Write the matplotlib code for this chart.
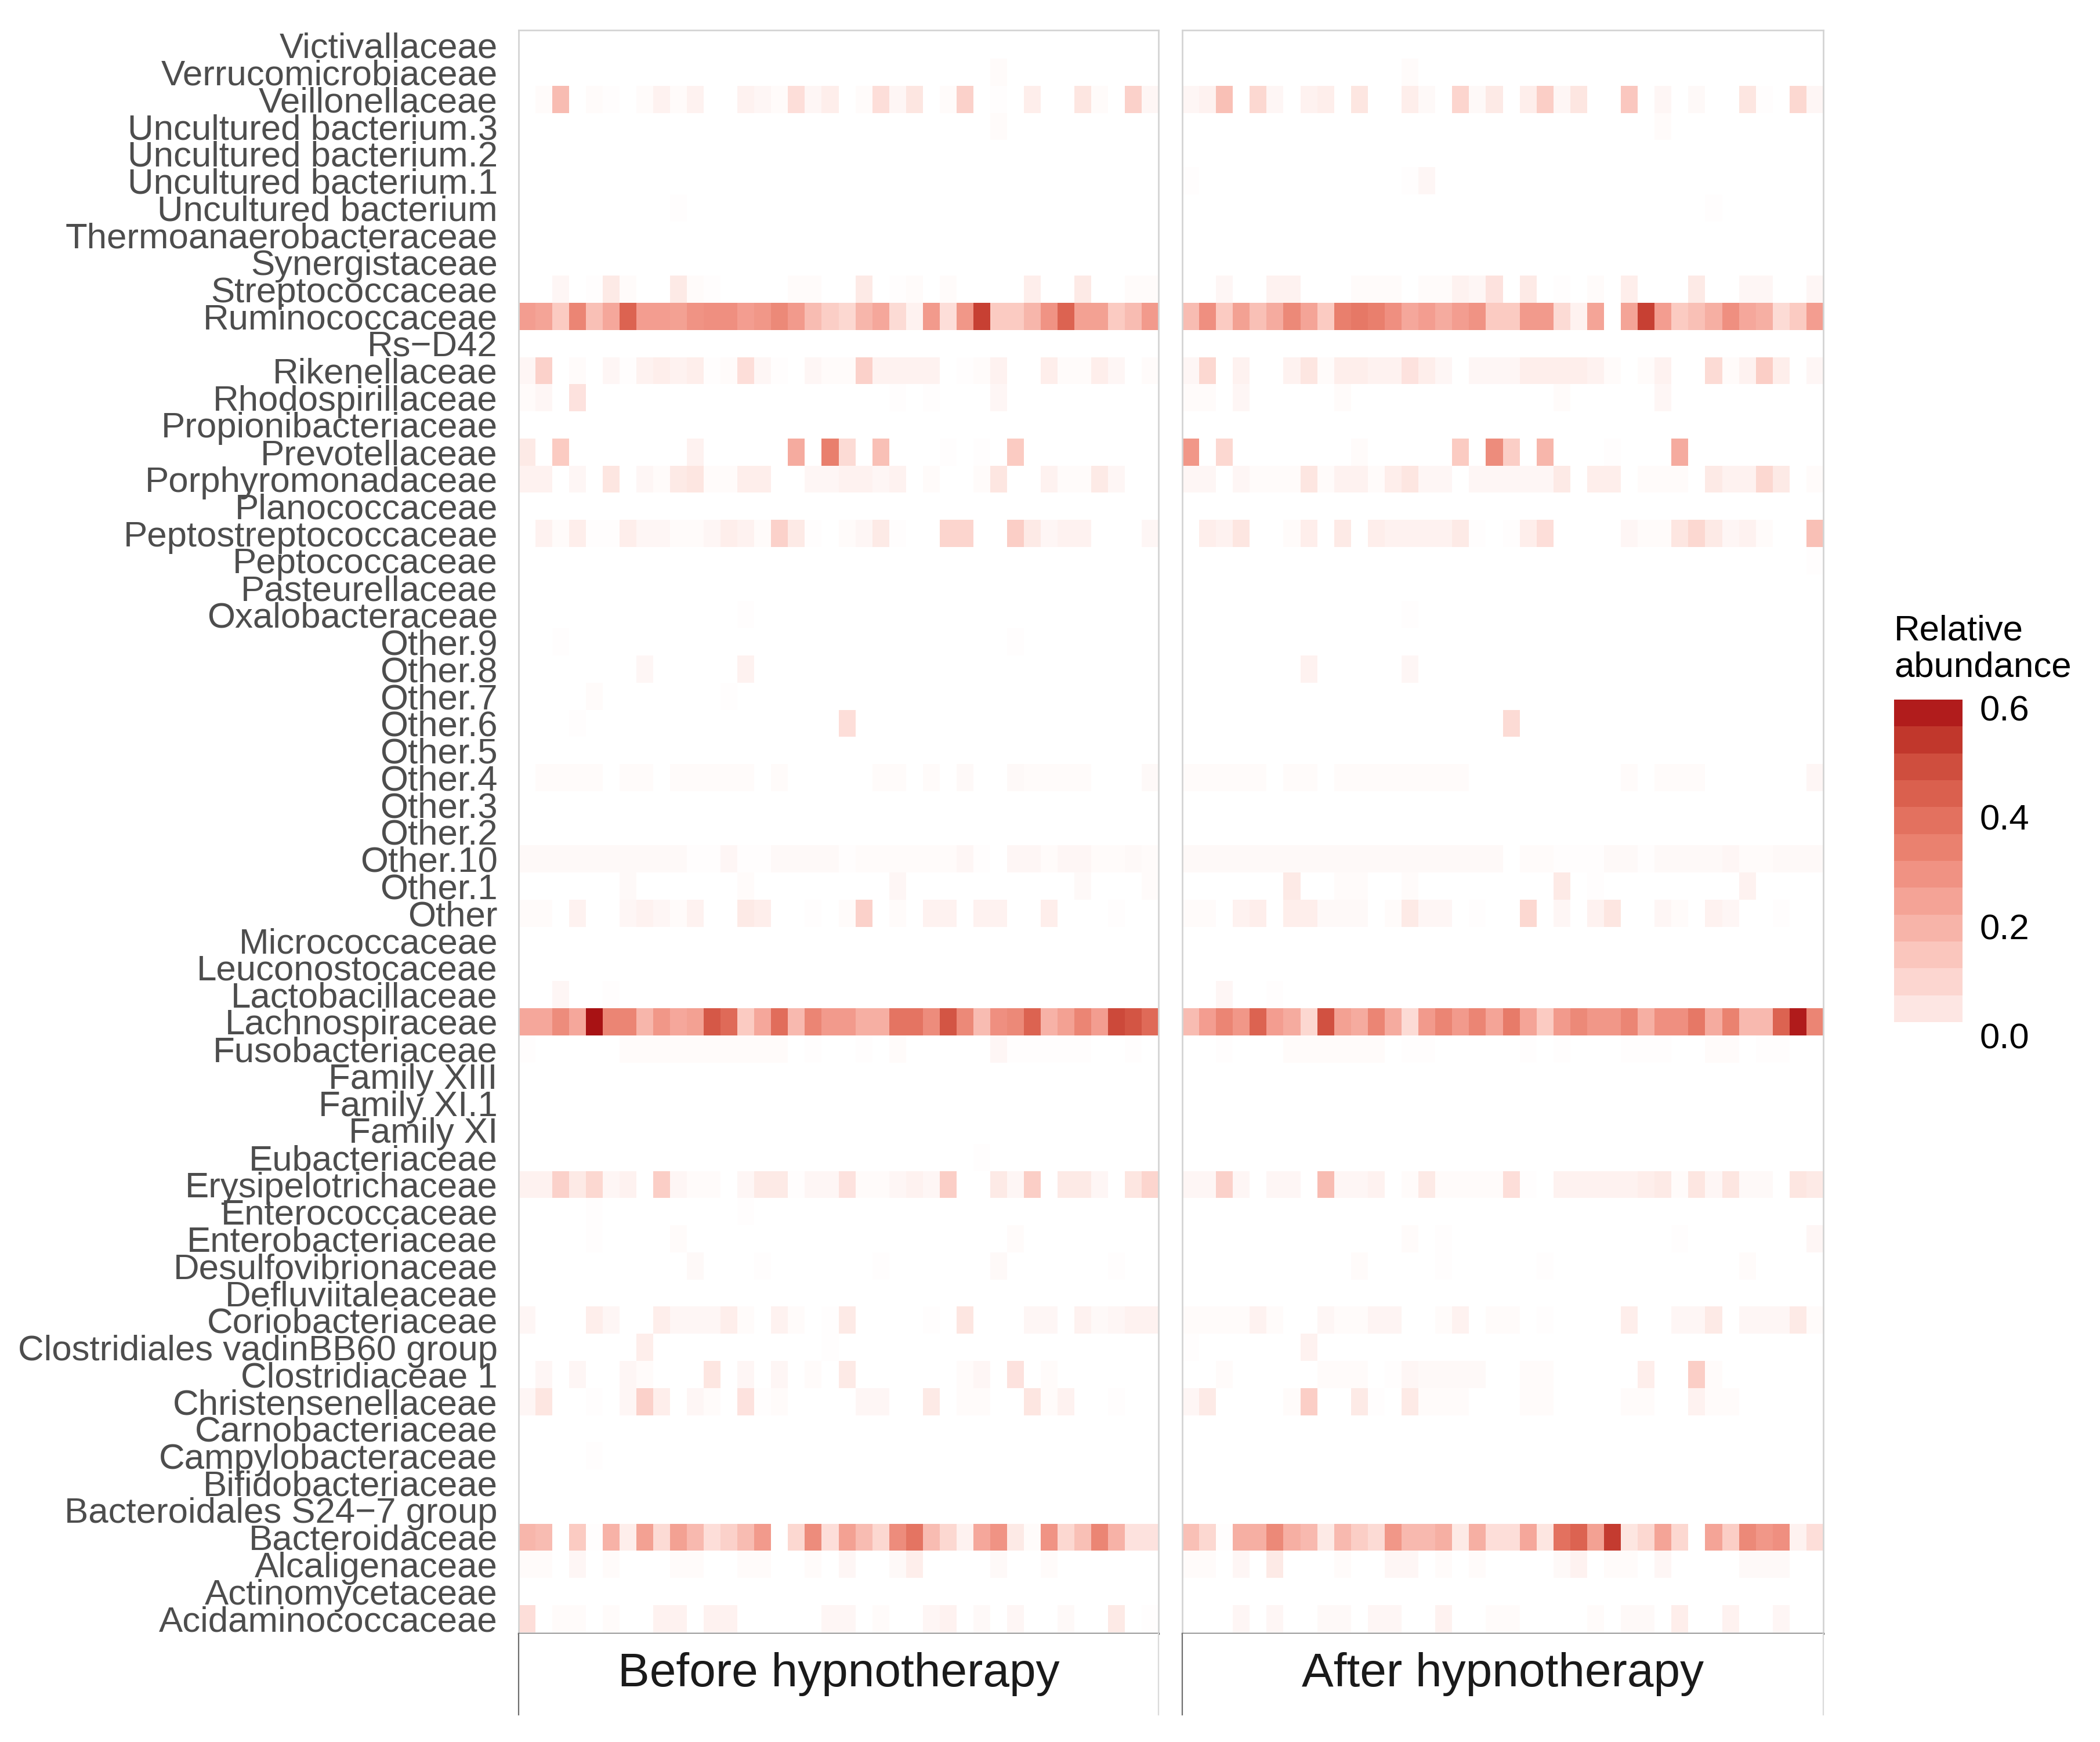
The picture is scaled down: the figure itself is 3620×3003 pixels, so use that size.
import numpy as np
import matplotlib
matplotlib.use("Agg")
import matplotlib.pyplot as plt
from matplotlib.colors import LinearSegmentedColormap

N_SAMPLES = 38

families = [
    "Victivallaceae", "Verrucomicrobiaceae", "Veillonellaceae",
    "Uncultured bacterium.3", "Uncultured bacterium.2", "Uncultured bacterium.1",
    "Uncultured bacterium", "Thermoanaerobacteraceae", "Synergistaceae",
    "Streptococcaceae", "Ruminococcaceae", "Rs\u2212D42", "Rikenellaceae",
    "Rhodospirillaceae", "Propionibacteriaceae", "Prevotellaceae",
    "Porphyromonadaceae", "Planococcaceae", "Peptostreptococcaceae",
    "Peptococcaceae", "Pasteurellaceae", "Oxalobacteraceae", "Other.9",
    "Other.8", "Other.7", "Other.6", "Other.5", "Other.4", "Other.3",
    "Other.2", "Other.10", "Other.1", "Other", "Micrococcaceae",
    "Leuconostocaceae", "Lactobacillaceae", "Lachnospiraceae",
    "Fusobacteriaceae", "Family XIII", "Family XI.1", "Family XI",
    "Eubacteriaceae", "Erysipelotrichaceae", "Enterococcaceae",
    "Enterobacteriaceae", "Desulfovibrionaceae", "Defluviitaleaceae",
    "Coriobacteriaceae", "Clostridiales vadinBB60 group", "Clostridiaceae 1",
    "Christensenellaceae", "Carnobacteriaceae", "Campylobacteraceae",
    "Bifidobacteriaceae", "Bacteroidales S24\u22127 group", "Bacteroidaceae",
    "Alcaligenaceae", "Actinomycetaceae", "Acidaminococcaceae",
]

panel_titles = ["Before hypnotherapy", "After hypnotherapy"]

# ---- relative abundance per family (38 samples); dicts = {sample index: value}, others 0
victivallaceae_before = {}
victivallaceae_after = {}
verrucomicrobiaceae_before = {28: 0.01}
verrucomicrobiaceae_after = {13: 0.01}
veillonellaceae_before = [
    0, 0.01, 0.18, 0, 0.01, 0.005, 0, 0.01, 0.03, 0.01,
    0.03, 0, 0, 0.03, 0.02, 0.01, 0.08, 0.02, 0.04, 0,
    0.01, 0.08, 0.02, 0.06, 0, 0.01, 0.12, 0, 0.005, 0,
    0.04, 0, 0, 0.06, 0.01, 0, 0.12, 0.02]
veillonellaceae_after = [
    0.02, 0.03, 0.17, 0, 0.10, 0.02, 0, 0.03, 0.04, 0,
    0.06, 0, 0, 0.04, 0.015, 0, 0.11, 0.015, 0.05, 0,
    0.04, 0.13, 0.02, 0.06, 0, 0, 0.15, 0, 0.02, 0,
    0.015, 0, 0, 0.06, 0.005, 0, 0.10, 0.02]
uncultured_bacterium_3_before = {28: 0.01}
uncultured_bacterium_3_after = {28: 0.01}
uncultured_bacterium_2_before = {}
uncultured_bacterium_2_after = {}
uncultured_bacterium_1_before = {}
uncultured_bacterium_1_after = {0: 0.005, 13: 0.005, 14: 0.02}
uncultured_bacterium_before = {9: 0.005}
uncultured_bacterium_after = {31: 0.005}
thermoanaerobacteraceae_before = {}
thermoanaerobacteraceae_after = {}
synergistaceae_before = {}
synergistaceae_after = {}
streptococcaceae_before = [
    0, 0, 0.02, 0, 0.005, 0.05, 0.01, 0, 0, 0.05,
    0.01, 0.005, 0, 0, 0, 0, 0.01, 0.01, 0, 0,
    0.05, 0, 0.005, 0.01, 0, 0.01, 0, 0, 0, 0,
    0.04, 0, 0, 0.05, 0, 0, 0.01, 0.01]
streptococcaceae_after = [
    0, 0, 0.02, 0, 0, 0.03, 0.03, 0, 0, 0,
    0.01, 0.01, 0.01, 0, 0.01, 0.01, 0.03, 0.02, 0.07, 0,
    0.05, 0, 0.005, 0, 0.01, 0, 0.04, 0, 0, 0,
    0.05, 0, 0, 0.02, 0.02, 0, 0, 0.02]
ruminococcaceae_before = [
    0.27, 0.25, 0.14, 0.34, 0.17, 0.24, 0.44, 0.27, 0.27, 0.26,
    0.30, 0.31, 0.31, 0.27, 0.29, 0.33, 0.28, 0.18, 0.13, 0.10,
    0.20, 0.24, 0.09, 0.03, 0.28, 0.08, 0.29, 0.53, 0.14, 0.14,
    0.20, 0.30, 0.44, 0.26, 0.26, 0.14, 0.18, 0.28]
ruminococcaceae_after = [
    0.18, 0.31, 0.14, 0.26, 0.17, 0.23, 0.33, 0.25, 0.14, 0.36,
    0.38, 0.36, 0.31, 0.24, 0.27, 0.23, 0.27, 0.30, 0.14, 0.14,
    0.28, 0.28, 0.09, 0.03, 0.25, 0.0, 0.25, 0.53, 0.27, 0.14,
    0.17, 0.22, 0.31, 0.24, 0.22, 0.09, 0.14, 0.27]
rs_d42_before = {}
rs_d42_after = {}
rikenellaceae_before = [
    0.02, 0.12, 0, 0.01, 0, 0.02, 0.005, 0.03, 0.04, 0.03,
    0.04, 0.005, 0.01, 0.08, 0.02, 0.005, 0, 0.02, 0.01, 0.01,
    0.12, 0.03, 0.03, 0.03, 0.03, 0, 0.005, 0.01, 0.03, 0,
    0, 0.04, 0.01, 0.01, 0.04, 0.02, 0, 0.01]
rikenellaceae_after = [
    0.02, 0.10, 0, 0.03, 0, 0, 0.03, 0.06, 0.01, 0.04,
    0.04, 0.03, 0.03, 0.07, 0.04, 0.02, 0, 0.02, 0.02, 0.02,
    0.04, 0.04, 0.04, 0.04, 0.03, 0.01, 0, 0.01, 0.03, 0,
    0, 0.09, 0.01, 0.03, 0.13, 0.04, 0, 0.02]
rhodospirillaceae_before = {0: 0.01, 1: 0.02, 3: 0.07, 22: 0.005, 24: 0.005, 28: 0.02}
rhodospirillaceae_after = {0: 0.01, 1: 0.01, 3: 0.02, 9: 0.01, 22: 0.01, 28: 0.02}
propionibacteriaceae_before = {}
propionibacteriaceae_after = {}
prevotellaceae_before = {0: 0.05, 2: 0.14, 10: 0.03, 16: 0.23, 18: 0.36, 19: 0.09,
                         21: 0.17, 25: 0.005, 27: 0.005, 29: 0.14}
prevotellaceae_after = {0: 0.29, 2: 0.10, 10: 0.01, 16: 0.14, 18: 0.32, 19: 0.13,
                        21: 0.20, 25: 0.005, 29: 0.23}
porphyromonadaceae_before = [
    0.03, 0.03, 0, 0.02, 0, 0.06, 0, 0.02, 0.01, 0.05,
    0.06, 0.01, 0.01, 0.04, 0.04, 0, 0, 0.02, 0.02, 0.03,
    0.03, 0.02, 0.03, 0, 0.01, 0, 0, 0.01, 0.06, 0,
    0, 0.03, 0.01, 0.01, 0.05, 0.02, 0, 0]
porphyromonadaceae_after = [
    0.02, 0.02, 0, 0.02, 0.01, 0.01, 0.01, 0.06, 0.01, 0.03,
    0.03, 0.01, 0.04, 0.06, 0.02, 0.02, 0, 0.02, 0.02, 0.02,
    0.02, 0.02, 0.05, 0, 0.04, 0.04, 0, 0.01, 0.01, 0.01,
    0, 0.05, 0.03, 0.03, 0.10, 0.05, 0, 0.01]
planococcaceae_before = {}
planococcaceae_after = {}
peptostreptococcaceae_before = [
    0, 0.03, 0.01, 0.04, 0.005, 0.005, 0.04, 0.02, 0.02, 0.01,
    0.01, 0.02, 0.04, 0.03, 0.01, 0.12, 0.05, 0.005, 0, 0.01,
    0.02, 0.05, 0.005, 0, 0, 0.11, 0.11, 0, 0, 0.13,
    0.05, 0.02, 0.03, 0.03, 0, 0, 0, 0.02]
peptostreptococcaceae_after = [
    0, 0.04, 0.03, 0.06, 0, 0, 0.01, 0.04, 0, 0.05,
    0, 0.04, 0.03, 0.03, 0.03, 0.03, 0.05, 0.005, 0, 0.005,
    0.04, 0.08, 0, 0, 0, 0, 0.02, 0.01, 0.01, 0.06,
    0.10, 0.05, 0.02, 0.03, 0.01, 0, 0, 0.17]
peptococcaceae_before = {}
peptococcaceae_after = {37: 0.005}
pasteurellaceae_before = {}
pasteurellaceae_after = {}
oxalobacteraceae_before = {13: 0.005}
oxalobacteraceae_after = {13: 0.005}
other_9_before = {2: 0.005, 29: 0.005}
other_9_after = {}
other_8_before = {7: 0.02, 13: 0.03}
other_8_after = {7: 0.03, 13: 0.02}
other_7_before = {4: 0.01, 12: 0.005}
other_7_after = {}
other_6_before = {3: 0.005, 19: 0.08}
other_6_after = {19: 0.09}
other_5_before = {}
other_5_after = {}
other_4_before = [
    0, 0.01, 0.01, 0.01, 0.01, 0, 0.01, 0.01, 0, 0.01,
    0.01, 0.01, 0.01, 0.01, 0, 0.01, 0, 0, 0, 0,
    0, 0.01, 0.01, 0, 0.01, 0, 0.015, 0, 0, 0.015,
    0.01, 0.01, 0.01, 0.01, 0, 0, 0, 0.015]
other_4_after = [
    0.01, 0.01, 0.01, 0.01, 0.01, 0, 0.01, 0.01, 0, 0.01,
    0.01, 0.01, 0.01, 0.01, 0.01, 0.01, 0.01, 0, 0, 0,
    0, 0, 0, 0, 0, 0, 0.01, 0, 0.01, 0.01,
    0.01, 0, 0, 0, 0, 0, 0, 0.02]
other_3_before = {}
other_3_after = {}
other_2_before = {}
other_2_after = {}
other_10_before = [
    0.015, 0.015, 0.015, 0.015, 0.015, 0.015, 0.015, 0.015, 0.015, 0.015,
    0.005, 0.005, 0.02, 0.005, 0.005, 0.015, 0.015, 0.015, 0.015, 0.005,
    0.01, 0.01, 0.01, 0.01, 0.01, 0.01, 0.02, 0.005, 0, 0.02,
    0.02, 0.01, 0.02, 0.02, 0.01, 0.01, 0.015, 0.01]
other_10_after = [
    0.015, 0.015, 0.015, 0.015, 0.015, 0.015, 0.015, 0.015, 0.015, 0.015,
    0.015, 0.015, 0.015, 0.015, 0.015, 0.015, 0.015, 0.015, 0.015, 0,
    0.01, 0.01, 0.005, 0.005, 0.005, 0.015, 0.015, 0.005, 0.015, 0.015,
    0.015, 0.015, 0.02, 0.01, 0.01, 0.015, 0.015, 0.015]
other_1_before = {6: 0.015, 13: 0.01, 22: 0.02, 33: 0.015, 37: 0.01}
other_1_after = {6: 0.05, 9: 0.01, 10: 0.01, 13: 0.01, 22: 0.05, 24: 0.005, 33: 0.03}
other_before = [
    0.01, 0.01, 0, 0.03, 0, 0, 0.02, 0.03, 0.02, 0.01,
    0.03, 0, 0, 0.05, 0.04, 0, 0, 0.005, 0, 0.01,
    0.12, 0, 0.01, 0, 0.03, 0.03, 0, 0.03, 0.03, 0,
    0, 0.04, 0, 0, 0, 0.005, 0, 0]
other_after = [
    0.01, 0.01, 0, 0.03, 0.04, 0, 0.04, 0.04, 0.015, 0.015,
    0.015, 0, 0.01, 0.05, 0.02, 0.02, 0, 0.005, 0, 0,
    0.10, 0, 0.02, 0, 0.03, 0.06, 0, 0, 0.02, 0.01,
    0, 0.03, 0.02, 0, 0, 0.005, 0, 0]
micrococcaceae_before = {}
micrococcaceae_after = {}
leuconostocaceae_before = {}
leuconostocaceae_after = {}
lactobacillaceae_before = {2: 0.02, 5: 0.005}
lactobacillaceae_after = {2: 0.02, 5: 0.005}
lachnospiraceae_before = [
    0.24, 0.24, 0.32, 0.24, 0.62, 0.34, 0.34, 0.20, 0.29, 0.24,
    0.26, 0.47, 0.42, 0.14, 0.24, 0.41, 0.19, 0.34, 0.28, 0.28,
    0.22, 0.22, 0.39, 0.39, 0.32, 0.48, 0.33, 0.18, 0.31, 0.33,
    0.44, 0.21, 0.26, 0.34, 0.27, 0.51, 0.48, 0.42]
lachnospiraceae_after = [
    0.18, 0.27, 0.34, 0.29, 0.44, 0.27, 0.23, 0.10, 0.49, 0.26,
    0.23, 0.34, 0.23, 0.09, 0.28, 0.34, 0.28, 0.34, 0.25, 0.37,
    0.25, 0.14, 0.28, 0.33, 0.29, 0.29, 0.34, 0.22, 0.31, 0.31,
    0.38, 0.23, 0.35, 0.19, 0.19, 0.44, 0.60, 0.34]
fusobacteriaceae_before = [
    0.005, 0, 0, 0, 0, 0, 0.01, 0.01, 0.01, 0.01,
    0.01, 0.01, 0.01, 0.01, 0.01, 0.01, 0, 0.005, 0, 0,
    0.005, 0, 0.01, 0, 0, 0, 0, 0, 0.02, 0.005,
    0.005, 0.005, 0.005, 0.005, 0, 0, 0.005, 0]
fusobacteriaceae_after = {2: 0.005, 6: 0.01, 7: 0.01, 8: 0.01, 9: 0.01, 10: 0.01, 11: 0.01,
                          13: 0.005, 14: 0.005, 20: 0.005, 22: 0.005, 26: 0.005, 27: 0.005,
                          28: 0.005, 31: 0.01, 32: 0.01, 34: 0.005, 35: 0.005}
family_xiii_before = {}
family_xiii_after = {}
family_xi_1_before = {}
family_xi_1_after = {}
family_xi_before = {}
family_xi_after = {}
eubacteriaceae_before = {27: 0.005}
eubacteriaceae_after = {}
erysipelotrichaceae_before = [
    0.03, 0.03, 0.12, 0.05, 0.10, 0.02, 0.03, 0, 0.13, 0.02,
    0.01, 0.01, 0, 0.02, 0.05, 0.05, 0.005, 0.02, 0.02, 0.07,
    0.01, 0.01, 0.02, 0.03, 0.02, 0.13, 0, 0, 0.05, 0.02,
    0.13, 0, 0.05, 0.05, 0.02, 0, 0.06, 0.11]
erysipelotrichaceae_after = [
    0.02, 0.02, 0.12, 0.02, 0, 0.02, 0.02, 0, 0.18, 0.02,
    0.02, 0.03, 0, 0.01, 0.05, 0.01, 0.01, 0.01, 0.01, 0.08,
    0.005, 0, 0.03, 0.03, 0.03, 0.03, 0.03, 0.04, 0.05, 0.01,
    0.06, 0.02, 0.06, 0.015, 0.015, 0, 0.06, 0.05]
enterococcaceae_before = {4: 0.005, 13: 0.005}
enterococcaceae_after = {}
enterobacteriaceae_before = {4: 0.005, 9: 0.01, 29: 0.01}
enterobacteriaceae_after = {13: 0.01, 15: 0.005, 29: 0.005, 37: 0.02}
desulfovibrionaceae_before = {10: 0.015, 14: 0.005, 21: 0.005, 28: 0.015, 35: 0.005}
desulfovibrionaceae_after = {10: 0.01, 15: 0.005, 21: 0.005, 33: 0.01}
defluviitaleaceae_before = {}
defluviitaleaceae_after = {}
coriobacteriaceae_before = [
    0.02, 0, 0, 0, 0.04, 0.02, 0, 0, 0.04, 0.02,
    0.02, 0.02, 0.04, 0.01, 0, 0.03, 0.01, 0, 0.005, 0.05,
    0, 0, 0, 0, 0.005, 0, 0.06, 0, 0, 0,
    0.02, 0.02, 0, 0.03, 0.015, 0.02, 0.03, 0.03]
coriobacteriaceae_after = [
    0.01, 0.01, 0.01, 0.01, 0.03, 0.01, 0, 0, 0.02, 0.01,
    0.01, 0.025, 0.025, 0, 0, 0.01, 0.03, 0, 0.01, 0.01,
    0, 0.005, 0, 0, 0, 0, 0.04, 0, 0, 0.02,
    0.02, 0.05, 0, 0.02, 0.02, 0.02, 0.05, 0.01]
clostridiales_vadinbb60_before = {7: 0.04, 18: 0.005}
clostridiales_vadinbb60_after = {0: 0.005, 7: 0.03}
clostridiaceae_1_before = {1: 0.02, 3: 0.02, 6: 0.02, 7: 0.01, 11: 0.06, 13: 0.02, 15: 0.02,
                           17: 0.01, 19: 0.05, 26: 0.01, 27: 0.02, 29: 0.07, 31: 0.01}
clostridiaceae_1_after = {2: 0.01, 8: 0.01, 9: 0.01, 10: 0.01, 12: 0.005, 13: 0.02, 14: 0.015,
                          15: 0.015, 16: 0.015, 17: 0.015, 20: 0.01, 21: 0.01, 27: 0.04,
                          30: 0.13, 31: 0.01}
christensenellaceae_before = {0: 0.02, 1: 0.06, 4: 0.005, 6: 0.02, 7: 0.12, 8: 0.04, 10: 0.02,
                              11: 0.01, 13: 0.07, 14: 0.005, 15: 0.01, 20: 0.02, 21: 0.02,
                              24: 0.05, 26: 0.01, 27: 0.01, 30: 0.06, 31: 0.01, 32: 0.03,
                              35: 0.005}
christensenellaceae_after = {0: 0.02, 1: 0.05, 6: 0.01, 7: 0.13, 10: 0.05, 11: 0.005, 13: 0.05,
                             14: 0.01, 15: 0.01, 16: 0.01, 20: 0.01, 21: 0.01, 26: 0.01,
                             27: 0.01, 30: 0.03, 31: 0.01, 32: 0.01}
carnobacteriaceae_before = {}
carnobacteriaceae_after = {}
campylobacteraceae_before = {4: 0.005}
campylobacteraceae_after = {}
bifidobacteriaceae_before = {}
bifidobacteriaceae_after = {}
bacteroidales_s24_7_before = {}
bacteroidales_s24_7_after = {}
bacteroidaceae_before = [
    0.20, 0.18, 0, 0.14, 0.005, 0.21, 0.04, 0.26, 0.09, 0.26,
    0.19, 0.08, 0.12, 0.18, 0.28, 0, 0.10, 0.32, 0.08, 0.26,
    0.18, 0.10, 0.32, 0.39, 0.18, 0.10, 0.03, 0.24, 0.30, 0.05,
    0.01, 0.30, 0.10, 0.17, 0.34, 0.21, 0.07, 0.07]
bacteroidaceae_after = [
    0.17, 0.10, 0.005, 0.22, 0.22, 0.33, 0.22, 0.19, 0.05, 0.19,
    0.13, 0.09, 0.29, 0.19, 0.19, 0.22, 0.05, 0.22, 0.08, 0.08,
    0.24, 0.06, 0.40, 0.44, 0.26, 0.54, 0.06, 0.10, 0.25, 0.10,
    0, 0.25, 0.13, 0.33, 0.29, 0.31, 0.03, 0.08]
alcaligenaceae_before = {0: 0.01, 1: 0.01, 3: 0.02, 5: 0.01, 9: 0.01, 10: 0.01, 13: 0.01,
                         14: 0.01, 17: 0.01, 19: 0.02, 22: 0.015, 23: 0.04, 28: 0.015, 31: 0.01}
alcaligenaceae_after = {0: 0.01, 1: 0.01, 3: 0.02, 5: 0.05, 9: 0.01, 12: 0.02, 13: 0.02,
                        15: 0.01, 17: 0.01, 22: 0.015, 23: 0.03, 25: 0.01, 26: 0.01,
                        28: 0.02, 33: 0.015, 34: 0.015, 35: 0.015}
actinomycetaceae_before = {}
actinomycetaceae_after = {}
acidaminococcaceae_before = {0: 0.08, 2: 0.01, 3: 0.01, 5: 0.01, 8: 0.03, 9: 0.03, 11: 0.03,
                             12: 0.03, 18: 0.02, 19: 0.02, 21: 0.01, 24: 0.02, 25: 0.03,
                             27: 0.015, 29: 0.02, 32: 0.015, 35: 0.05, 37: 0.005}
acidaminococcaceae_after = {3: 0.02, 5: 0.02, 8: 0.015, 9: 0.015, 11: 0.02, 12: 0.02,
                            15: 0.03, 18: 0.01, 19: 0.01, 24: 0.01, 26: 0.015, 27: 0.015,
                            29: 0.04, 32: 0.03, 35: 0.02}

before_rows = [
    victivallaceae_before, verrucomicrobiaceae_before, veillonellaceae_before,
    uncultured_bacterium_3_before, uncultured_bacterium_2_before, uncultured_bacterium_1_before,
    uncultured_bacterium_before, thermoanaerobacteraceae_before, synergistaceae_before,
    streptococcaceae_before, ruminococcaceae_before, rs_d42_before, rikenellaceae_before,
    rhodospirillaceae_before, propionibacteriaceae_before, prevotellaceae_before,
    porphyromonadaceae_before, planococcaceae_before, peptostreptococcaceae_before,
    peptococcaceae_before, pasteurellaceae_before, oxalobacteraceae_before, other_9_before,
    other_8_before, other_7_before, other_6_before, other_5_before, other_4_before,
    other_3_before, other_2_before, other_10_before, other_1_before, other_before,
    micrococcaceae_before, leuconostocaceae_before, lactobacillaceae_before,
    lachnospiraceae_before, fusobacteriaceae_before, family_xiii_before, family_xi_1_before,
    family_xi_before, eubacteriaceae_before, erysipelotrichaceae_before,
    enterococcaceae_before, enterobacteriaceae_before, desulfovibrionaceae_before,
    defluviitaleaceae_before, coriobacteriaceae_before, clostridiales_vadinbb60_before,
    clostridiaceae_1_before, christensenellaceae_before, carnobacteriaceae_before,
    campylobacteraceae_before, bifidobacteriaceae_before, bacteroidales_s24_7_before,
    bacteroidaceae_before, alcaligenaceae_before, actinomycetaceae_before,
    acidaminococcaceae_before,
]
after_rows = [
    victivallaceae_after, verrucomicrobiaceae_after, veillonellaceae_after,
    uncultured_bacterium_3_after, uncultured_bacterium_2_after, uncultured_bacterium_1_after,
    uncultured_bacterium_after, thermoanaerobacteraceae_after, synergistaceae_after,
    streptococcaceae_after, ruminococcaceae_after, rs_d42_after, rikenellaceae_after,
    rhodospirillaceae_after, propionibacteriaceae_after, prevotellaceae_after,
    porphyromonadaceae_after, planococcaceae_after, peptostreptococcaceae_after,
    peptococcaceae_after, pasteurellaceae_after, oxalobacteraceae_after, other_9_after,
    other_8_after, other_7_after, other_6_after, other_5_after, other_4_after,
    other_3_after, other_2_after, other_10_after, other_1_after, other_after,
    micrococcaceae_after, leuconostocaceae_after, lactobacillaceae_after,
    lachnospiraceae_after, fusobacteriaceae_after, family_xiii_after, family_xi_1_after,
    family_xi_after, eubacteriaceae_after, erysipelotrichaceae_after,
    enterococcaceae_after, enterobacteriaceae_after, desulfovibrionaceae_after,
    defluviitaleaceae_after, coriobacteriaceae_after, clostridiales_vadinbb60_after,
    clostridiaceae_1_after, christensenellaceae_after, carnobacteriaceae_after,
    campylobacteraceae_after, bifidobacteriaceae_after, bacteroidales_s24_7_after,
    bacteroidaceae_after, alcaligenaceae_after, actinomycetaceae_after,
    acidaminococcaceae_after,
]

colorbar_ticks = [0.0, 0.2, 0.4, 0.6]


def to_row(v):
    if isinstance(v, dict):
        return [float(v.get(i, 0.0)) for i in range(N_SAMPLES)]
    if len(v) != N_SAMPLES:
        raise ValueError("bad row length %d" % len(v))
    return [float(x) for x in v]


mat_before = np.array([to_row(r) for r in before_rows])
mat_after = np.array([to_row(r) for r in after_rows])

# ---- colour scale
VMAX = 0.62
anchors = [(0.0, "#FFFFFF"), (0.057, "#FDE6E2"), (0.106, "#FCD6CF"), (0.155, "#FAC5BC"),
           (0.204, "#F7B4A9"), (0.253, "#F4A396"), (0.30, "#F09384"), (0.35, "#EA8270"),
           (0.40, "#E3715F"), (0.45, "#DA604E"), (0.50, "#CF4E3E"), (0.547, "#C2382D"),
           (0.60, "#B01B1B"), (0.62, "#A81214")]
cmap = LinearSegmentedColormap.from_list("relab", [(p / VMAX, c) for p, c in anchors])

W, H = 3620, 3003
DPI = 100
fig = plt.figure(figsize=(W / DPI, H / DPI), dpi=DPI)
fig.patch.set_facecolor("white")
FONT = ["Liberation Sans", "DejaVu Sans"]
LABEL_PT = 44.5


def frac(x0, y0, x1, y1):
    return [x0 / W, 1 - y1 / H, (x1 - x0) / W, (y1 - y0) / H]


panel_x = [(894, 1997), (2038, 3143)]
PANEL_TOP, PANEL_BOT = 52, 2816
STRIP_BOT = 2956
n_rows = len(families)

for k, (mat, title) in enumerate(zip([mat_before, mat_after], panel_titles)):
    x0, x1 = panel_x[k]
    ax = fig.add_axes(frac(x0, PANEL_TOP, x1, PANEL_BOT))
    xe = np.arange(N_SAMPLES + 1) - 0.5
    ye = np.arange(n_rows + 1) - 0.5
    ax.pcolormesh(xe, ye, mat, cmap=cmap, vmin=0, vmax=VMAX, shading="flat",
                  edgecolors="none", antialiased=False)
    ax.set_xlim(-0.5, N_SAMPLES - 0.5)
    ax.set_ylim(n_rows - 0.5 + 0.05, -0.5 - 0.05)
    ax.set_xticks([])
    if k == 0:
        ax.set_yticks(np.arange(n_rows))
        ax.set_yticklabels(families, fontsize=LABEL_PT, color="#4D4D4D", family=FONT)
        ax.tick_params(axis="y", length=0, pad=26)
    else:
        ax.set_yticks([])
    for s in ["top", "left", "right"]:
        ax.spines[s].set_color("#D4D4D4")
        ax.spines[s].set_linewidth(2.0)
    ax.spines["bottom"].set_color("#5A5A5A")
    ax.spines["bottom"].set_linewidth(2.4)

    sax = fig.add_axes(frac(x0, PANEL_BOT, x1, STRIP_BOT))
    sax.set_xticks([])
    sax.set_yticks([])
    sax.set_xlim(0, 1)
    sax.set_ylim(0, 1)
    sax.spines["top"].set_visible(False)
    sax.spines["bottom"].set_visible(False)
    sax.spines["left"].set_color("#6E6E6E")
    sax.spines["left"].set_linewidth(1.6)
    sax.spines["right"].set_color("#DADADA")
    sax.spines["right"].set_linewidth(1.6)
    sax.text(0.5, 0.5, title, ha="center", va="center", fontsize=59,
             color="#1A1A1A", family=FONT)

# ---- colour legend (binned bar)
CB_X0, CB_X1 = 3265, 3383
CB_TOP, CB_BOT = 1206, 1762
v_top, v_bot = 0.622, 0.032
cax = fig.add_axes(frac(CB_X0, CB_TOP, CB_X1, CB_BOT))
edges = np.linspace(v_bot, v_top, 13)
for lo, hi in zip(edges[:-1], edges[1:]):
    cax.bar(0.5, hi - lo, bottom=lo, width=1.0, color=cmap(((lo + hi) / 2) / VMAX),
            edgecolor="none", linewidth=0)
cax.set_xlim(0, 1)
cax.set_ylim(v_bot, v_top)
cax.set_xticks([])
cax.set_yticks([])
for s in cax.spines.values():
    s.set_visible(False)
for t in colorbar_ticks:
    cax.text(1.25, t, "%.1f" % t, ha="left", va="center", fontsize=LABEL_PT,
             color="black", family=FONT, transform=cax.get_yaxis_transform(),
             clip_on=False)

fig.text(CB_X0 / W, 1 - 1060 / H, "Relative\nabundance", ha="left", va="top",
         fontsize=LABEL_PT, color="black", family=FONT, linespacing=1.12)

fig.savefig("out.png", dpi=DPI, facecolor="white")
